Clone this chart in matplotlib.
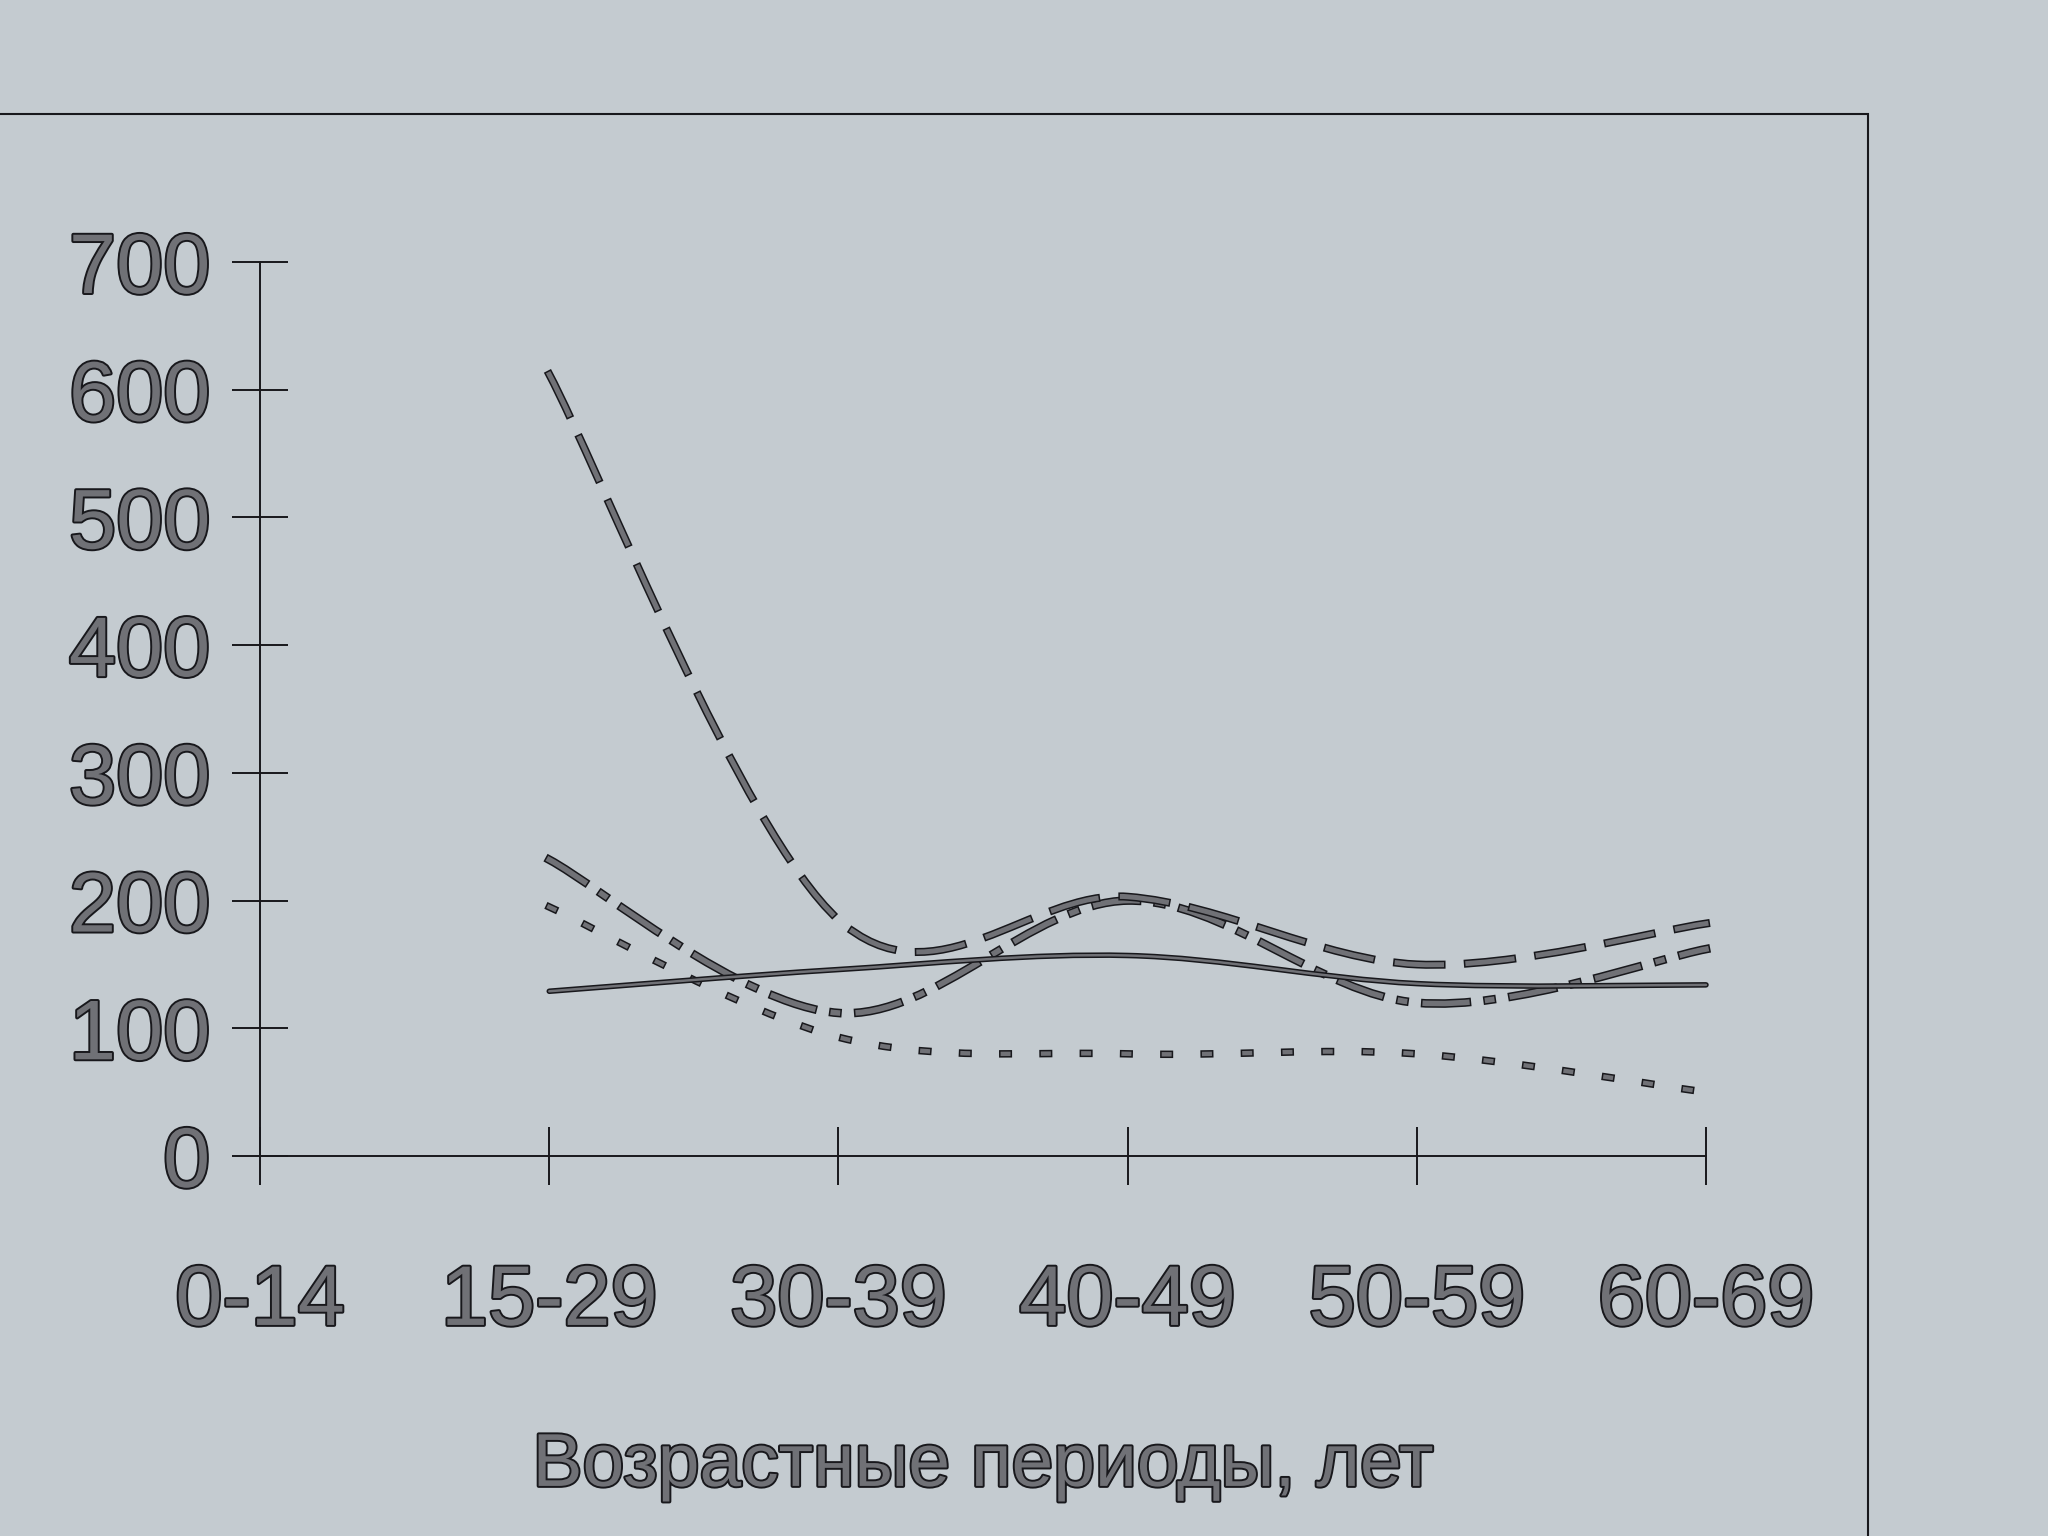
import numpy as np
import matplotlib
matplotlib.use("Agg")
import matplotlib.pyplot as plt
import matplotlib.patheffects as pe
from matplotlib.path import Path
from matplotlib.patches import PathPatch, Rectangle

# age groups on the x axis
categories = ["0-14", "15-29", "30-39", "40-49", "50-59", "60-69"]
y_ticks = [0, 100, 200, 300, 400, 500, 600, 700]

# series values (no value for 0-14)
solid_vals = [np.nan, 129, 146, 157, 135, 134]
dashed_vals = [np.nan, 612, 185, 203, 150, 182]
dashdot_vals = [np.nan, 232, 112, 200, 120, 162]
dotted_vals = [np.nan, 195, 93, 80, 80, 50]

plt.rcParams["lines.scale_dashes"] = False
plt.rcParams["font.family"] = ["Liberation Sans", "DejaVu Sans"]

bg = "#c4cbd0"
ink = "#18181c"
fill = "#707176"


def smooth_path(xs, ys):
    # Excel-like smoothed line: cubic bezier through every data point
    pts = np.column_stack([xs, ys])
    n = len(pts)
    verts = [pts[0]]
    codes = [Path.MOVETO]
    for i in range(n - 1):
        p0 = pts[i - 1] if i > 0 else pts[i]
        p1 = pts[i]
        p2 = pts[i + 1]
        p3 = pts[i + 2] if i + 2 < n else pts[i + 1]
        verts += [p1 + (p2 - p0) / 6, p2 - (p3 - p1) / 6, p2]
        codes += [Path.CURVE4] * 3
    return Path(verts, codes)


def draw_series(ax, vals, lw, dashes=None):
    x = np.arange(len(categories))
    v = np.array(vals, dtype=float)
    ok = ~np.isnan(v)
    ls = "-" if dashes is None else (0, dashes)
    patch = PathPatch(smooth_path(x[ok], v[ok]), fill=False, edgecolor=fill,
                      linewidth=lw, linestyle=ls, clip_on=False)
    patch.set_capstyle("projecting" if dashes else "round")
    patch.set_joinstyle("round")
    patch.set_path_effects([pe.Stroke(linewidth=lw + 2.2, foreground=ink),
                            pe.Normal()])
    ax.add_patch(patch)


fig = plt.figure(figsize=(20.48, 15.36), dpi=100, facecolor=bg)
ax = fig.add_axes([0.127, 0.2474, 0.706, 0.582])
ax.set_facecolor("none")

draw_series(ax, dotted_vals, 3.2, (4, 25))
draw_series(ax, dashdot_vals, 4.0, (30, 15, 3, 15))
draw_series(ax, dashed_vals, 3.6, (32, 19))
draw_series(ax, solid_vals, 1.8)

ax.set_xlim(0, len(categories) - 1)
ax.set_ylim(y_ticks[0], y_ticks[-1])
ax.set_xticks(np.arange(len(categories)), labels=categories)
ax.set_yticks(y_ticks, labels=[str(t) for t in y_ticks])

for s in ["top", "right"]:
    ax.spines[s].set_visible(False)
for s in ["left", "bottom"]:
    ax.spines[s].set_color(ink)
    ax.spines[s].set_linewidth(1.4)

ax.tick_params(axis="y", direction="inout", length=40, width=1.4, color=ink,
               pad=16, labelsize=61)
ax.tick_params(axis="x", direction="inout", length=42, width=1.4, color=ink,
               pad=56, labelsize=61)

text_fx = [pe.withStroke(linewidth=2.8, foreground=ink)]
for lbl in ax.get_xticklabels() + ax.get_yticklabels():
    lbl.set_color(fill)
    lbl.set_path_effects(text_fx)

fig.text(0.48, 0.0326, "Возрастные периоды, лет", ha="center", va="baseline",
         fontsize=54, color=fill, path_effects=text_fx)

# printed frame around the figure (left and bottom edges off the page)
fig.add_artist(Rectangle((-0.02, -0.02), 0.932, 0.9458, transform=fig.transFigure,
                         fill=False, linewidth=1.5, edgecolor=ink))

fig.savefig("out.png", dpi=100, facecolor=bg)
